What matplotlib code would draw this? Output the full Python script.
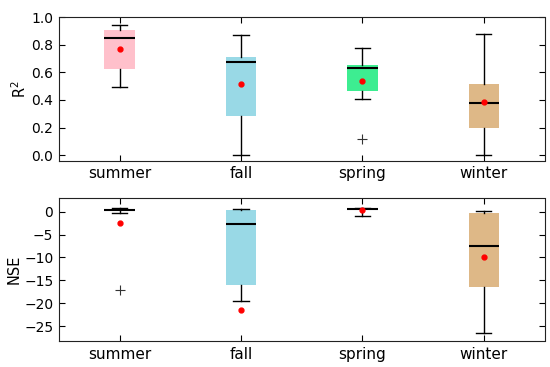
import numpy as np
import matplotlib
matplotlib.use('Agg')
import matplotlib.pyplot as plt

seasons = ['summer', 'fall', 'spring', 'winter']
colors = ['pink', '#99d9e6', '#3ded91', 'burlywood']

# R^2 box statistics
r2_whislo = [0.497, 0.0, 0.41, 0.0]
r2_q1 = [0.625, 0.287, 0.468, 0.198]
r2_med = [0.852, 0.678, 0.635, 0.377]
r2_q3 = [0.905, 0.71, 0.652, 0.514]
r2_whishi = [0.945, 0.87, 0.775, 0.879]
r2_mean = [0.77, 0.517, 0.538, 0.388]
r2_fliers = [[], [], [0.118], []]

# NSE box statistics
nse_whislo = [-0.35, -19.4, -0.85, -26.5]
nse_q1 = [0.15, -15.97, 0.35, -16.55]
nse_med = [0.37, -2.67, 0.55, -7.6]
nse_q3 = [0.5, 0.43, 0.62, -0.35]
nse_whishi = [0.74, 0.65, 0.72, 0.08]
nse_mean = [-2.5, -21.5, 0.37, -9.9]
nse_fliers = [[-17.05], [], [], []]


def make_stats(lo, q1, med, q3, hi, mean, fl):
    return [dict(whislo=lo[i], q1=q1[i], med=med[i], q3=q3[i], whishi=hi[i],
                 mean=mean[i], fliers=fl[i], label=seasons[i])
            for i in range(len(seasons))]


fig, axes = plt.subplots(2, 1, figsize=(5.5, 3.67), dpi=100)
fig.subplots_adjust(left=0.107, right=0.99, top=0.953, bottom=0.07, hspace=0.26)

panels = [
    (make_stats(r2_whislo, r2_q1, r2_med, r2_q3, r2_whishi, r2_mean, r2_fliers),
     r'R$^2$', (-0.04, 1.0), [0.0, 0.2, 0.4, 0.6, 0.8, 1.0], ['0.0', '0.2', '0.4', '0.6', '0.8', '1.0']),
    (make_stats(nse_whislo, nse_q1, nse_med, nse_q3, nse_whishi, nse_mean, nse_fliers),
     'NSE', (-28.3, 3.0), [-25, -20, -15, -10, -5, 0], ['\u221225', '\u221220', '\u221215', '\u221210', '\u22125', '0']),
]

for ax, (stats, ylabel, ylim, yt, ytl) in zip(axes, panels):
    bp = ax.bxp(stats, widths=0.25, patch_artist=True, showmeans=True,
                boxprops=dict(linewidth=0),
                medianprops=dict(color='black', linewidth=1.5),
                whiskerprops=dict(color='black', linewidth=1),
                capprops=dict(color='black', linewidth=1),
                meanprops=dict(marker='o', markerfacecolor='red', markeredgecolor='red', markersize=3.5),
                flierprops=dict(marker='+', markeredgecolor='#333333', markersize=7,
                                markeredgewidth=0.8, linestyle='none'))
    for patch, c in zip(bp['boxes'], colors):
        patch.set_facecolor(c)
        patch.set_edgecolor(c)
    ax.set_xlim(0.5, 4.5)
    ax.set_ylim(*ylim)
    ax.set_yticks(yt)
    ax.set_yticklabels(ytl)
    ax.set_ylabel(ylabel, fontsize=10.5, labelpad=2)
    ax.tick_params(direction='in', top=True, right=True, labelsize=10, length=4, pad=4)
    ax.tick_params(axis='x', labelsize=11)
    for sp in ax.spines.values():
        sp.set_color('#222222')

fig.savefig('out.png', dpi=100)
